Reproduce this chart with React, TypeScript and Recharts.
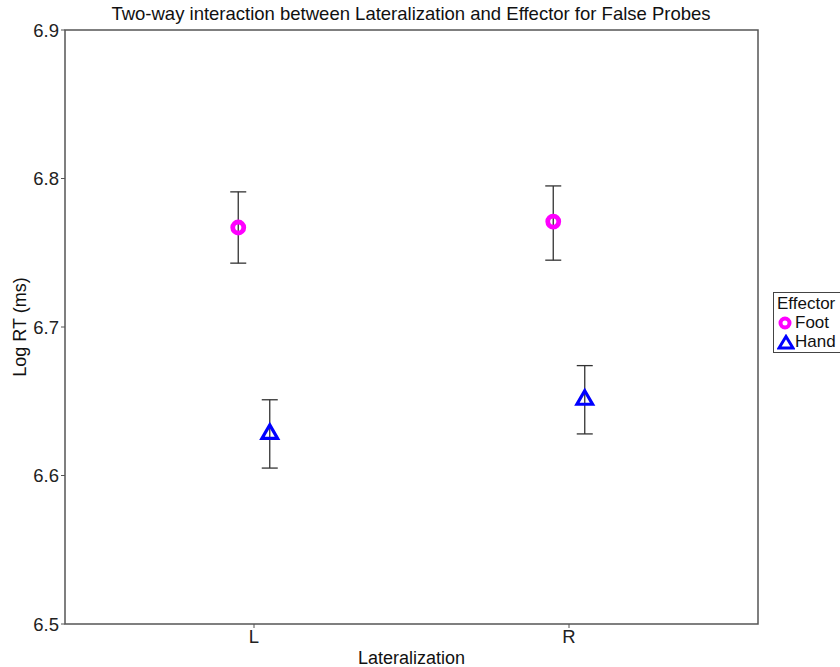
import React from "react";
import {
  ScatterChart,
  Scatter,
  XAxis,
  YAxis,
  ErrorBar,
  ReferenceArea,
  Legend,
} from "recharts";

const categories = ["L", "R"];
const footMean = [6.767, 6.771];
const footLow = [6.743, 6.745];
const footHigh = [6.791, 6.795];
const handMean = [6.628, 6.651];
const handLow = [6.605, 6.628];
const handHigh = [6.651, 6.674];
const yTicks = [6.5, 6.6, 6.7, 6.8, 6.9];

const dodge = 0.05;
const font = "'Liberation Sans', Arial, sans-serif";

const footData = categories.map((c, i) => ({
  x: i + 1 - dodge,
  y: footMean[i],
  err: [footMean[i] - footLow[i], footHigh[i] - footMean[i]],
}));

const handData = categories.map((c, i) => ({
  x: i + 1 + dodge,
  y: handMean[i],
  err: [handMean[i] - handLow[i], handHigh[i] - handMean[i]],
}));

const CircleShape = (props: any) => {
  const { cx, cy } = props;
  return <circle cx={cx} cy={cy} r={5.5} fill="none" stroke="#FF00FF" strokeWidth={4.8} />;
};

const TriangleShape = (props: any) => {
  const { cx, cy } = props;
  const h = 13.5;
  const w = 7.8;
  const pts = `${cx},${cy - (2 * h) / 3} ${cx + w},${cy + h / 3} ${cx - w},${cy + h / 3}`;
  return <polygon points={pts} fill="none" stroke="#0000FF" strokeWidth={3.2} strokeLinejoin="miter" />;
};

const LegendBox = () => (
  <div
    style={{
      border: "1px solid #444",
      fontFamily: font,
      fontSize: 17,
      color: "#111",
      padding: "1px 3px",
      lineHeight: "19px",
      whiteSpace: "nowrap",
      background: "#fff",
    }}
  >
    <div>Effector</div>
    <div style={{ display: "flex", alignItems: "center" }}>
      <svg width={16} height={16} style={{ marginRight: 2 }}>
        <circle cx={8} cy={8} r={4.5} fill="none" stroke="#FF00FF" strokeWidth={4} />
      </svg>
      Foot
    </div>
    <div style={{ display: "flex", alignItems: "center" }}>
      <svg width={18} height={16} style={{ marginRight: 0 }}>
        <polygon points="9,2.5 16,14 2,14" fill="none" stroke="#0000FF" strokeWidth={3} />
      </svg>
      Hand
    </div>
  </div>
);

export default function App() {
  return (
    <div style={{ position: "absolute", left: 0, top: 0, width: 840, height: 667, overflow: "hidden", background: "#fff" }}>
      <div
        style={{
          position: "absolute",
          top: 3,
          left: 0,
          width: 822,
          textAlign: "center",
          fontFamily: font,
          fontSize: 18.5,
          color: "#111",
        }}
      >
        Two-way interaction between Lateralization and Effector for False Probes
      </div>
      <ScatterChart width={840} height={667} margin={{ top: 30, right: 82, bottom: 0, left: 0 }}>
        <XAxis
          type="number"
          dataKey="x"
          domain={[0.4, 2.6]}
          ticks={[1, 2]}
          tickFormatter={(v: number) => categories[v - 1]}
          allowDataOverflow
          height={43}
          axisLine={false}
          tickSize={4}
          tickLine={{ stroke: "#555" }}
          tick={{ fontFamily: font, fontSize: 18.5, fill: "#222" }}
          label={{ value: "Lateralization", position: "insideBottom", offset: 3, style: { fontFamily: font, fontSize: 18, fill: "#111" } }}
        />
        <YAxis
          type="number"
          dataKey="y"
          domain={[6.5, 6.9]}
          ticks={yTicks}
          allowDataOverflow
          width={65}
          axisLine={false}
          tickSize={4}
          tickMargin={2}
          tickLine={{ stroke: "#555" }}
          tickFormatter={(v: number) => v.toFixed(1)}
          tick={{ fontFamily: font, fontSize: 18.5, fill: "#222" }}
          label={{ value: "Log RT (ms)", angle: -90, position: "insideLeft", offset: 20, style: { textAnchor: "middle", fontFamily: font, fontSize: 18, fill: "#111" } }}
        />
        <ReferenceArea x1={0.4} x2={2.6} y1={6.5} y2={6.9} fill="none" stroke="#555" strokeWidth={1.5} />
        <Scatter data={footData} shape={CircleShape} isAnimationActive={false}>
          <ErrorBar dataKey="err" direction="y" width={8} stroke="#333" strokeWidth={1.3} />
        </Scatter>
        <Scatter data={handData} shape={TriangleShape} isAnimationActive={false}>
          <ErrorBar dataKey="err" direction="y" width={8} stroke="#333" strokeWidth={1.3} />
        </Scatter>
        <Legend
          layout="horizontal"
          verticalAlign="middle"
          align="center"
          content={() => <LegendBox />}
          wrapperStyle={{ left: 773, top: 292, width: 90 }}
        />
      </ScatterChart>
    </div>
  );
}
